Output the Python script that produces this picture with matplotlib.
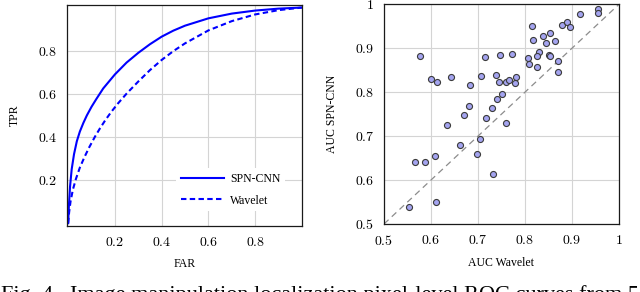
import matplotlib
matplotlib.use("Agg")
import matplotlib.pyplot as plt

plt.rcParams["font.family"] = ["Liberation Serif", "DejaVu Serif"]
plt.rcParams["mathtext.fontset"] = "cm"

# ROC curves
far_spn = [0, 0.003, 0.008, 0.015, 0.025, 0.037, 0.050, 0.065, 0.080, 0.100, 0.120, 0.150,
           0.200, 0.250, 0.300, 0.350, 0.400, 0.450, 0.500, 0.600, 0.700, 0.800, 0.900, 1.0]
tpr_spn = [0, 0.08, 0.17, 0.25, 0.32, 0.38, 0.425, 0.465, 0.50, 0.54, 0.575, 0.625,
           0.69, 0.745, 0.79, 0.83, 0.865, 0.893, 0.916, 0.950, 0.972, 0.986, 0.995, 1.0]

far_wav = [0, 0.004, 0.010, 0.020, 0.033, 0.050, 0.069, 0.090, 0.114, 0.135, 0.159, 0.185,
           0.212, 0.250, 0.300, 0.350, 0.400, 0.450, 0.500, 0.600, 0.700, 0.800, 0.900, 1.0]
tpr_wav = [0, 0.05, 0.10, 0.155, 0.205, 0.258, 0.305, 0.352, 0.40, 0.438, 0.478, 0.517,
           0.554, 0.601, 0.657, 0.710, 0.757, 0.798, 0.834, 0.894, 0.937, 0.968, 0.988, 1.0]

# per-image AUC scatter (right panel)
auc_wavelet = [0.577, 0.600, 0.612, 0.643, 0.684, 0.682, 0.670, 0.635, 0.707, 0.714,
               0.747, 0.772, 0.738, 0.745, 0.760, 0.767, 0.781, 0.778, 0.752, 0.740,
               0.730, 0.718, 0.760, 0.815, 0.818, 0.838, 0.853, 0.845, 0.864, 0.878,
               0.890, 0.897, 0.918, 0.955, 0.955, 0.806, 0.829, 0.825, 0.851, 0.853,
               0.808, 0.826, 0.870, 0.870, 0.704, 0.662, 0.699, 0.609, 0.587, 0.565,
               0.733, 0.610, 0.554]
auc_spn = [0.883, 0.830, 0.824, 0.834, 0.817, 0.769, 0.748, 0.725, 0.836, 0.880,
           0.885, 0.886, 0.839, 0.824, 0.824, 0.828, 0.834, 0.821, 0.797, 0.784,
           0.765, 0.742, 0.729, 0.951, 0.920, 0.928, 0.935, 0.911, 0.917, 0.954,
           0.960, 0.948, 0.979, 0.989, 0.980, 0.877, 0.892, 0.883, 0.884, 0.882,
           0.865, 0.857, 0.871, 0.846, 0.694, 0.679, 0.660, 0.655, 0.642, 0.641,
           0.613, 0.551, 0.539]

roc_ticks = [0.2, 0.4, 0.6, 0.8]
roc_labels = ["$0.2$", "$0.4$", "$0.6$", "$0.8$"]
auc_ticks = [0.5, 0.6, 0.7, 0.8, 0.9, 1.0]
auc_labels = ["$0.5$", "$0.6$", "$0.7$", "$0.8$", "$0.9$", "$1$"]

caption = "Fig. 4.  Image manipulation localization pixel-level ROC curves from 55"

fig = plt.figure(figsize=(6.4, 2.92), dpi=100)

grid_kw = dict(color="#d4d4d4", lw=0.8)

# Left: ROC curves
ax1 = fig.add_axes([0.1047, 0.226, 0.367, 0.757])
ax1.plot(far_spn, tpr_spn, color="#0000ff", lw=1.5, label="SPN-CNN")
ax1.plot(far_wav, tpr_wav, color="#0000ff", lw=1.5, dashes=(2.6, 1.6), label="Wavelet")
ax1.set_xlim(-0.005, 1.0)
ax1.set_ylim(-0.013, 1.012)
ax1.set_xticks(roc_ticks, labels=roc_labels)
ax1.set_yticks(roc_ticks, labels=roc_labels)
ax1.grid(True, **grid_kw)
ax1.set_axisbelow(True)
ax1.set_xlabel("FAR", fontsize=8.5, labelpad=7)
ax1.set_ylabel("TPR", fontsize=8.5, labelpad=12)
leg = ax1.legend(loc="lower right", bbox_to_anchor=(0.955, 0.04), fontsize=8.5,
                 frameon=True, fancybox=False, edgecolor="none", framealpha=1,
                 handlelength=3.7, handletextpad=0.5, labelspacing=0.8,
                 borderpad=0.4)

# Right: per-image AUC scatter
ax2 = fig.add_axes([0.6, 0.233, 0.367, 0.752])
ax2.plot([0.5, 1.0], [0.5, 1.0], color="#8c8c8c", lw=0.9, dashes=(5, 3.5))
ax2.scatter(auc_wavelet, auc_spn, s=19, facecolor="#a4a4f0", edgecolor="#3a3a3a",
            linewidth=0.8, zorder=3)
ax2.set_xlim(0.5, 1.0)
ax2.set_ylim(0.5, 1.0)
ax2.set_xticks(auc_ticks, labels=auc_labels)
ax2.set_yticks(auc_ticks, labels=auc_labels)
ax2.grid(True, **grid_kw)
ax2.set_axisbelow(True)
ax2.set_xlabel("AUC Wavelet", fontsize=8.5, labelpad=7)
ax2.set_ylabel("AUC SPN-CNN", fontsize=8.5, labelpad=12)

for ax in (ax1, ax2):
    ax.tick_params(length=0, labelsize=10, pad=7)
    for sp in ax.spines.values():
        sp.set_linewidth(0.9)
        sp.set_color("#1a1a1a")

# caption line, cut by the bottom edge like in the source image
fig.text(0.002, -0.026, caption, fontsize=16, ha="left", va="baseline")

fig.savefig("out.png", dpi=100)
